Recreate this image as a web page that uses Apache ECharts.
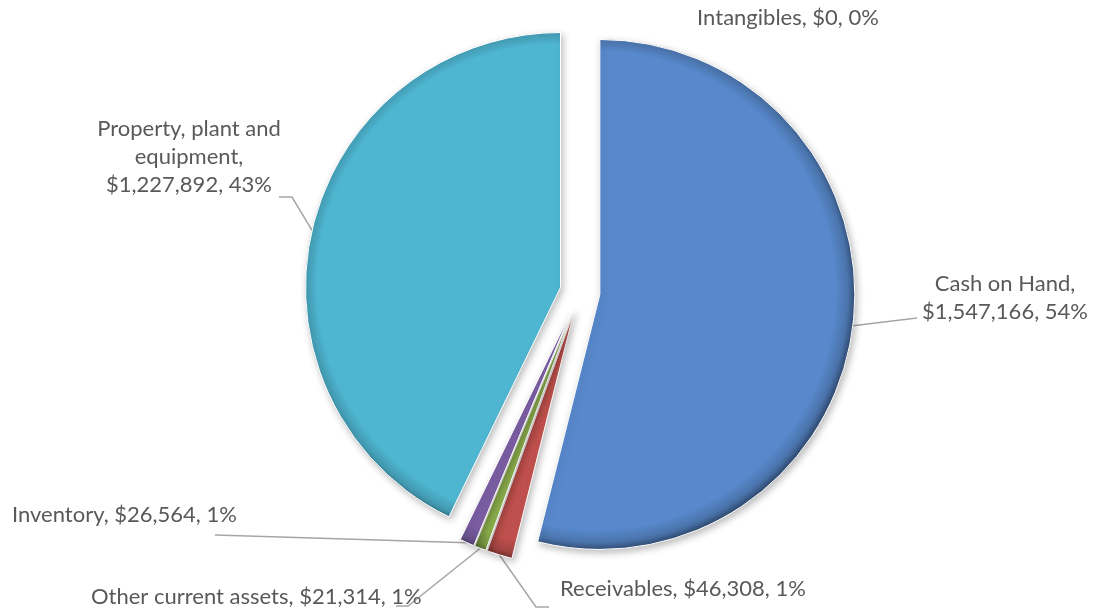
<!DOCTYPE html>
<html>
<head>
<meta charset="utf-8">
<script src="https://cdn.jsdelivr.net/npm/echarts@6/dist/echarts.min.js"></script>
<style>
  html, body { margin: 0; padding: 0; background: #ffffff; }
  #chart { width: 1099px; height: 614px; }
</style>
</head>
<body>
<div id="chart"></div>
<script>
// Asset breakdown
const categories = ['Cash on Hand', 'Receivables', 'Other current assets', 'Inventory', 'Property, plant and equipment', 'Intangibles'];
const values = [1547166, 46308, 21314, 26564, 1227892, 0];
const percentLabels = ['54%', '1%', '1%', '1%', '43%', '0%'];
const sliceColors = ['#5889cc', '#c0504d', '#8db04c', '#7b5ea3', '#4fb6d1', '#f79646'];

// pie geometry: centre, radius and how far every slice is pulled out
const CX = 580, CY = 292, R = 255, EXPLODE = 20;

// where each label sits (text anchor and the bend points of its leader line)
const labelPlacement = {
  'Cash on Hand': { x: 1005, y: 298, align: 'center', bend: [[917, 318]] },
  'Receivables': { x: 560, y: 589, align: 'left', bend: [[536, 607], [549, 607]] },
  'Other current assets': { x: 91, y: 597, align: 'left', bend: [[408, 606], [396, 606]] },
  'Inventory': { x: 12, y: 515, align: 'left', bend: [[215, 535]] },
  'Property, plant and equipment': { x: 189, y: 157, align: 'center', bend: [[292, 197], [279, 197]] },
  'Intangibles': { x: 788, y: 18, align: 'center', bend: null }
};

function shade(hex, f) {
  const n = parseInt(hex.slice(1), 16);
  const c = [(n >> 16) & 255, (n >> 8) & 255, n & 255].map(v => Math.max(0, Math.min(255, Math.round(v * f))));
  return 'rgb(' + c.join(',') + ')';
}

function labelText(p) {
  const money = '$' + p.value.toLocaleString('en-US');
  const pct = percentLabels[p.dataIndex];
  if (p.name === 'Cash on Hand') return p.name + ',\n' + money + ', ' + pct;
  if (p.name === 'Property, plant and equipment') return 'Property, plant and\nequipment,\n' + money + ', ' + pct;
  return p.name + ', ' + money + ', ' + pct;
}

const total = values.reduce((a, b) => a + b, 0);
const transparent = 'rgba(0,0,0,0)';

// One pie layer per slice: each layer is shifted out along its own slice's
// bisector and paints only that slice, which gives the exploded look.
let acc = 0;
const series = categories.map((name, i) => {
  const mid = (acc + values[i] / 2) / total * Math.PI * 2;
  acc += values[i];
  const cx = CX + EXPLODE * Math.sin(mid);
  const cy = CY - EXPLODE * Math.cos(mid);
  const base = sliceColors[i];
  // darker bevelled rim, heavier towards the lower right
  const fill = {
    type: 'radial', global: true, x: cx - 4, y: cy - 4, r: R + 5,
    colorStops: [
      { offset: 0, color: base },
      { offset: 0.92, color: base },
      { offset: 0.97, color: shade(base, 0.84) },
      { offset: 1, color: shade(base, 0.55) }
    ]
  };
  return {
    type: 'pie',
    name: name,
    z: 2,
    center: [cx, cy],
    radius: R,
    startAngle: 90,
    clockwise: true,
    avoidLabelOverlap: false,
    minShowLabelAngle: 0,
    silent: true,
    emphasis: { disabled: true },
    label: {
      show: false,
      fontFamily: 'Lato, "Open Sans", sans-serif',
      fontSize: 22,
      color: '#595959',
      lineHeight: 28,
      formatter: labelText
    },
    labelLine: { show: false, lineStyle: { color: '#a6a6a6', width: 1.5 } },
    labelLayout: function (params) {
      const pl = labelPlacement[categories[params.dataIndex]];
      const out = { x: pl.x, y: pl.y, align: pl.align, verticalAlign: 'middle' };
      if (pl.bend && params.labelLinePoints) {
        out.labelLinePoints = [params.labelLinePoints[0]].concat(pl.bend);
      }
      return out;
    },
    data: categories.map((n, j) => {
      const own = j === i;
      const painted = own && values[j] > 0;
      return {
        name: n,
        value: values[j],
        itemStyle: painted ? {
          color: fill,
          borderColor: '#ffffff',
          borderWidth: 1,
          shadowBlur: 7,
          shadowColor: 'rgba(0,0,0,0.25)',
          shadowOffsetX: 2,
          shadowOffsetY: 3
        } : { color: transparent, borderWidth: 0, shadowBlur: 0, shadowColor: transparent },
        label: { show: own },
        labelLine: { show: painted }
      };
    })
  };
});

const chart = echarts.init(document.getElementById('chart'), null, { renderer: 'canvas' });
chart.setOption({
  backgroundColor: '#ffffff',
  animation: false,
  series: series
});
</script>
</body>
</html>
